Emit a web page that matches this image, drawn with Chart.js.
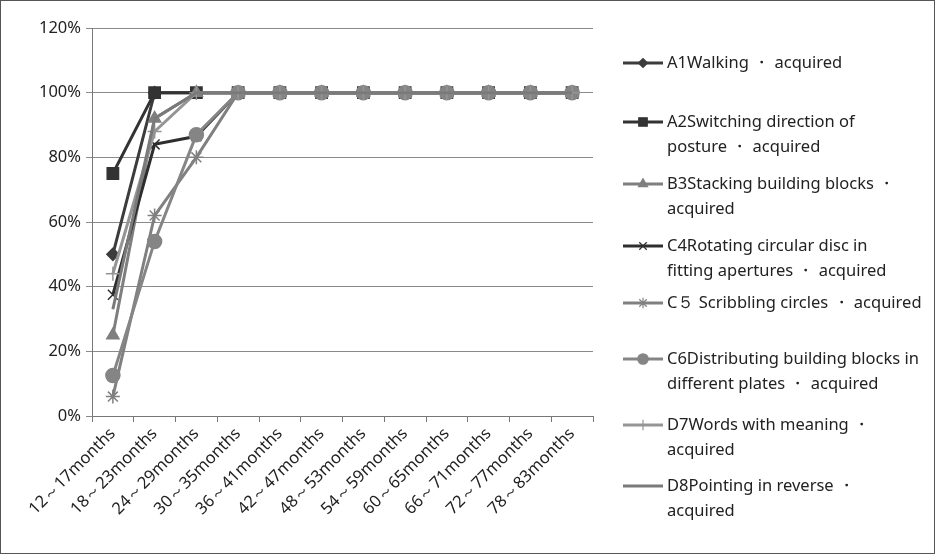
<!DOCTYPE html>
<html>
<head>
<meta charset="utf-8">
<script src="https://cdn.jsdelivr.net/npm/chart.js@4.4.0/dist/chart.umd.min.js"></script>
<style>
  html, body { margin: 0; padding: 0; background: #fff; }
  #wrap { position: relative; width: 935px; height: 554px; box-sizing: border-box; border: 1px solid #555; }
  canvas { display: block; }
</style>
</head>
<body>
<div id="wrap"><canvas id="c" width="933" height="552"></canvas></div>
<script>
// --- DATA ---
const categories = ['12～17months', '18～23months', '24～29months', '30～35months', '36～41months', '42～47months',
  '48～53months', '54～59months', '60～65months', '66～71months', '72～77months', '78～83months'];
const yTicks = [0, 20, 40, 60, 80, 100, 120];

const a1 = [50, 100, 100, 100, 100, 100, 100, 100, 100, 100, 100, 100];
const a2 = [75, 100, 100, 100, 100, 100, 100, 100, 100, 100, 100, 100];
const b3 = [25, 92, 100, 100, 100, 100, 100, 100, 100, 100, 100, 100];
const c4 = [37.5, 84, 86.5, 100, 100, 100, 100, 100, 100, 100, 100, 100];
const c5 = [6, 62, 80, 100, 100, 100, 100, 100, 100, 100, 100, 100];
const c6 = [12.5, 54, 87, 100, 100, 100, 100, 100, 100, 100, 100, 100];
const d7 = [44, 88, 100, 100, 100, 100, 100, 100, 100, 100, 100, 100];
const d8 = [33, 92, 100, 100, 100, 100, 100, 100, 100, 100, 100, 100];

const legendLines = [
  ['A1Walking ・ acquired'],
  ['A2Switching direction of', 'posture ・ acquired'],
  ['B3Stacking building blocks ・', 'acquired'],
  ['C4Rotating circular disc in', 'fitting apertures ・ acquired'],
  ['C５ Scribbling circles ・ acquired'],
  ['C6Distributing building blocks in', 'different plates ・ acquired'],
  ['D7Words with meaning ・', 'acquired'],
  ['D8Pointing in reverse ・', 'acquired']
];

// --- SERIES STYLE ---
const series = [
  { data: a1, color: '#3c3c3c', style: 'rectRot', r: 6 },
  { data: a2, color: '#333333', style: 'rect', r: 8 },
  { data: b3, color: '#7f7f7f', style: 'triangle', r: 7 },
  { data: c4, color: '#2e2e2e', style: 'crossRot', r: 7 },
  { data: c5, color: '#808080', style: 'star', r: 7 },
  { data: c6, color: '#858585', style: 'circle', r: 7 },
  { data: d7, color: '#959595', style: 'cross', r: 7 },
  { data: d8, color: '#7a7a7a', style: false, r: 0 }
];
const legendY = [62, 121, 183, 245, 302, 358, 424, 485];

const FONT = '"Noto Sans", sans-serif';

const legendPlugin = {
  id: 'sideLegend',
  afterDraw(chart) {
    const ctx = chart.ctx;
    ctx.save();
    ctx.font = '16.5px ' + FONT;
    ctx.textBaseline = 'middle';
    series.forEach((s, i) => {
      const y = legendY[i];
      ctx.strokeStyle = s.color;
      ctx.lineWidth = 3;
      ctx.beginPath();
      ctx.moveTo(622, y);
      ctx.lineTo(662, y);
      ctx.stroke();
      if (s.style) {
        ctx.fillStyle = s.color;
        ctx.lineWidth = 1.2;
        Chart.helpers.drawPoint(ctx, { pointStyle: s.style, radius: s.r * 0.75, borderWidth: 1.2, rotation: 0 }, 642, y);
      }
      ctx.fillStyle = '#222';
      legendLines[i].forEach((t, j) => ctx.fillText(t, 666, y + j * 25));
    });
    ctx.restore();
  }
};

new Chart(document.getElementById('c'), {
  type: 'line',
  data: {
    labels: categories,
    datasets: series.map((s, i) => ({
      label: legendLines[i].join(' '),
      data: s.data,
      borderColor: s.color,
      backgroundColor: s.color,
      borderWidth: 3,
      pointStyle: s.style,
      pointRadius: s.r,
      pointBorderWidth: 1.5,
      pointBorderColor: s.color,
      pointBackgroundColor: s.color,
      tension: 0,
      order: 8 - i
    }))
  },
  options: {
    responsive: false,
    animation: false,
    events: [],
    layout: { padding: { left: 0, right: 341, top: 27, bottom: 0 } },
    plugins: { legend: { display: false }, tooltip: { enabled: false } },
    scales: {
      x: {
        offset: true,
        grid: { display: true, drawOnChartArea: false, offset: true, tickLength: 6, color: '#777', lineWidth: 1 },
        border: { display: true, color: '#777', width: 1 },
        ticks: { minRotation: 45, maxRotation: 45, color: '#222', font: { family: FONT, size: 16.5 }, padding: 2 },
        afterFit(scale) { scale.height = 137; }
      },
      y: {
        min: 0, max: 120,
        afterBuildTicks(scale) { scale.ticks = yTicks.map(v => ({ value: v })); },
        grid: { color: '#8a8a8a', lineWidth: 1, tickLength: 6 },
        border: { display: true, color: '#777', width: 1 },
        ticks: { color: '#222', font: { family: FONT, size: 16.5 }, padding: 5, callback: v => v + '%' },
        afterFit(scale) { scale.width = 91; }
      }
    }
  },
  plugins: [legendPlugin]
});
</script>
</body>
</html>
